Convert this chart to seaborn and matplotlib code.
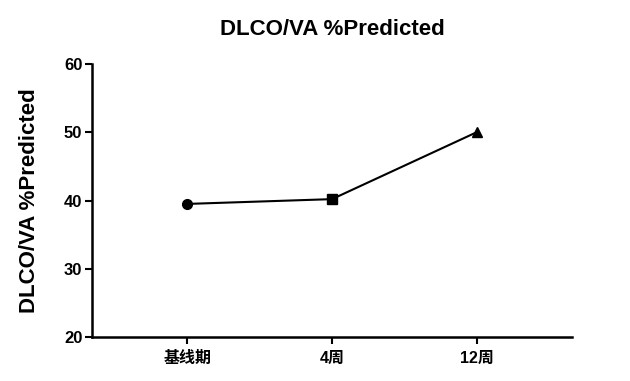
import matplotlib
matplotlib.use("Agg")
import matplotlib.pyplot as plt
import seaborn as sns
import pandas as pd

categories = ["基线期", "4周", "12周"]
values = [39.5, 40.2, 50.0]
markers = ["o", "s", "^"]
yticks = [20, 30, 40, 50, 60]

sns.set_style("ticks")
plt.rcParams['font.family'] = ['Liberation Sans', 'Noto Sans CJK SC']
plt.rcParams['font.weight'] = 'bold'
plt.rcParams['text.color'] = 'black'
plt.rcParams['axes.labelcolor'] = 'black'
plt.rcParams['xtick.color'] = 'black'
plt.rcParams['ytick.color'] = 'black'
plt.rcParams['axes.edgecolor'] = 'black'

df = pd.DataFrame({"x": range(len(categories)), "y": values, "label": categories})

fig = plt.figure(figsize=(6.3, 3.81), dpi=100)
ax = fig.add_axes([0.146, 0.1155, 0.762, 0.7165])

sns.lineplot(data=df, x="x", y="y", ax=ax, color="black", linewidth=1.5)
for i, row in df.iterrows():
    ax.plot(row["x"], row["y"], marker=markers[i], color="black", markersize=7, linestyle="none", zorder=3)

ax.set_xlim(-0.66, 2.66)
ax.set_ylim(20, 60)
ax.set_yticks(yticks)
ax.set_xticks(range(len(categories)))
ax.set_xticklabels(categories, family=['Liberation Sans', 'Noto Sans CJK SC'], fontweight='bold', fontsize=11.5, color='black')
for lab in ax.get_yticklabels():
    lab.set_fontsize(12)
    lab.set_fontweight('bold')
    lab.set_color('black')
ax.set_xlabel("")
ax.set_ylabel("DLCO/VA %Predicted", fontsize=16, fontweight='bold', labelpad=17, color='black')
ax.set_title("DLCO/VA %Predicted", fontsize=16, fontweight='bold', pad=21, color='black')
sns.despine(ax=ax)
for s in ["left", "bottom"]:
    ax.spines[s].set_linewidth(1.8)
    ax.spines[s].set_color('black')
ax.tick_params(width=1.5, length=5, direction='out', pad=2, colors='black')
ax.tick_params(axis='x', pad=5)

fig.savefig("out.png", dpi=100)
